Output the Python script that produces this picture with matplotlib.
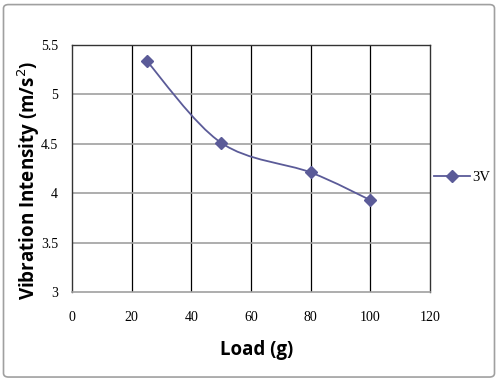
import numpy as np
import matplotlib
matplotlib.use("Agg")
import matplotlib.pyplot as plt
from matplotlib.path import Path
from matplotlib.patches import PathPatch, FancyBboxPatch
from matplotlib.lines import Line2D

# data
load = [25, 50, 80, 100]
vib_3v = [5.34, 4.51, 4.21, 3.93]
xticks = [0, 20, 40, 60, 80, 100, 120]
yticks = [3, 3.5, 4, 4.5, 5, 5.5]
ytick_labels = ["3", "3.5", "4", "4.5", "5", "5.5"]

col = "#5b5b98"


# excel style smoothed line -> bezier control points
def smooth_path(x, y):
    p = np.column_stack([x, y]).astype(float)
    pts = np.vstack([p[0], p, p[-1]])
    verts = [p[0]]
    codes = [Path.MOVETO]
    for i in range(1, len(pts) - 2):
        c1 = pts[i] + (pts[i + 1] - pts[i - 1]) / 6
        c2 = pts[i + 1] - (pts[i + 2] - pts[i]) / 6
        verts += [c1, c2, pts[i + 1]]
        codes += [Path.CURVE4] * 3
    return Path(verts, codes)


fig = plt.figure(figsize=(5, 3.82), dpi=100)
fig.patches.append(FancyBboxPatch((0.007, 0.013), 0.982, 0.975,
                                  boxstyle="round,pad=0,rounding_size=0.01",
                                  transform=fig.transFigure, fill=False,
                                  edgecolor="#a0a0a0", linewidth=1.2))

ax = fig.add_axes([0.144, 0.2356, 0.716, 0.6466])
ax.set_xlim(0, 120)
ax.set_ylim(3, 5.5)

for xv in xticks[1:-1]:
    ax.axvline(xv, color="black", linewidth=0.9, zorder=1)
for yv in yticks[1:-1]:
    ax.axhline(yv, color="#a0a0a0", linewidth=1.2, zorder=1)

ax.add_patch(PathPatch(smooth_path(load, vib_3v), fill=False,
                       edgecolor=col, linewidth=1.3, zorder=3))
ax.plot(load, vib_3v, linestyle="none", marker="D", markersize=6.5,
        color=col, zorder=4)

ax.set_xticks(xticks)
ax.set_yticks(yticks)
ax.set_yticklabels(ytick_labels)
ax.tick_params(length=0, labelsize=10)
ax.tick_params(axis="x", pad=14)
ax.tick_params(axis="y", pad=10)
for lab in ax.get_xticklabels() + ax.get_yticklabels():
    lab.set_fontfamily("Liberation Serif")

for s in ["left", "right", "top"]:
    ax.spines[s].set_color("#333333")
    ax.spines[s].set_linewidth(1.0)
ax.spines["bottom"].set_color("#a0a0a0")
ax.spines["bottom"].set_linewidth(1.2)

fig.text(0.514, 0.083, "Load (g)", fontsize=13.5, fontweight="bold",
         family="Open Sans", ha="center", va="center")
fig.text(0.058, 0.528, "Vibration Intensity (m/s$^2$)", fontsize=13.5,
         fontweight="bold", family="Open Sans", ha="center", va="center",
         rotation=90)

h = Line2D([], [], color=col, linewidth=1.3, marker="D", markersize=6.5)
ax.legend([h], ["3V"], loc="center left", bbox_to_anchor=(1.011, 0.465),
          frameon=False, handlelength=2.5, handletextpad=0.15,
          borderaxespad=0, borderpad=0,
          prop={"family": "Liberation Serif", "size": 10.5})

fig.savefig("out.png", dpi=100)
